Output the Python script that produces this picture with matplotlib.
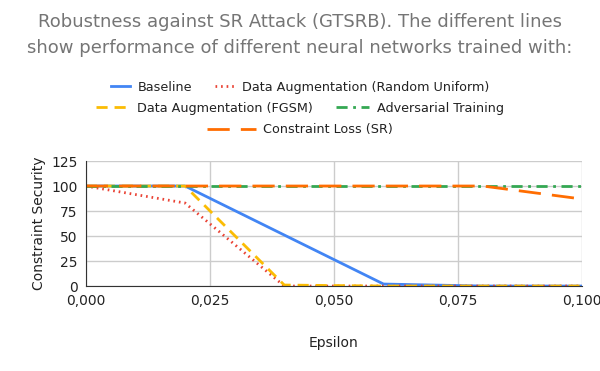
import numpy as np
import matplotlib.pyplot as plt
from matplotlib.ticker import FuncFormatter

eps = [0.0, 0.02, 0.04, 0.06, 0.08, 0.10]
baseline = [100, 100, 51, 2, 0, 0]
rand_uniform = [100, 83, 0, 0, 0, 0]
fgsm = [100, 100, 1, 0, 0, 0]
adversarial = [100, 100, 100, 100, 100, 100]
constraint_sr = [100, 100, 100, 100, 100, 87]

fig = plt.figure(figsize=(6, 3.71), dpi=100)
ax = fig.add_axes([0.143, 0.229, 0.827, 0.337])

h1, = ax.plot(eps, baseline, color='#4285F4', lw=2, label='Baseline')
h2, = ax.plot(eps, rand_uniform, color='#EA4335', lw=2, ls=(0, (0.6, 1.4)),
              label='Data Augmentation (Random Uniform)')
h3, = ax.plot(eps, fgsm, color='#FBBC04', lw=2, ls=(0, (4, 2.5)),
              label='Data Augmentation (FGSM)')
h4, = ax.plot(eps, adversarial, color='#34A853', lw=2, ls=(0, (4, 2, 1, 2)),
              label='Adversarial Training')
h5, = ax.plot(eps, constraint_sr, color='#FF6D01', lw=2, ls=(0, (8, 4)),
              label='Constraint Loss (SR)')

ax.set_xlim(0, 0.1)
ax.set_ylim(0, 125)
ax.set_xticks([0, 0.025, 0.05, 0.075, 0.1])
ax.set_yticks([0, 25, 50, 75, 100, 125])
ax.xaxis.set_major_formatter(FuncFormatter(lambda v, p: f"{v:.3f}".replace('.', ',')))
ax.grid(color='#cccccc', lw=1)
ax.set_axisbelow(True)
for s in ['top', 'right']:
    ax.spines[s].set_visible(False)
ax.spines['left'].set_color('#333333')
ax.spines['bottom'].set_color('#333333')
ax.tick_params(length=0, labelsize=10, colors='#222222', pad=6)
ax.set_xlabel('Epsilon', fontsize=10, color='#222222', labelpad=20)
ax.set_ylabel('Constraint Security', fontsize=10, color='#222222')

fig.suptitle('Robustness against SR Attack (GTSRB). The different lines\n'
             'show performance of different neural networks trained with:',
             fontsize=13, color='#757575', y=0.965, linespacing=1.55)

kw = dict(frameon=False, fontsize=9.2, columnspacing=1.8,
          handletextpad=0.6, labelcolor='#222222')
fig.legend(handles=[h1, h2], ncol=2, loc='center', bbox_to_anchor=(0.5, 0.765),
           handlelength=1.5, **kw)
fig.legend(handles=[h3, h4], ncol=2, loc='center', bbox_to_anchor=(0.5, 0.708),
           handlelength=2.6, **kw)
fig.legend(handles=[h5], ncol=1, loc='center', bbox_to_anchor=(0.5, 0.65),
           handlelength=3.8, **kw)

fig.savefig('out.png', dpi=100)
